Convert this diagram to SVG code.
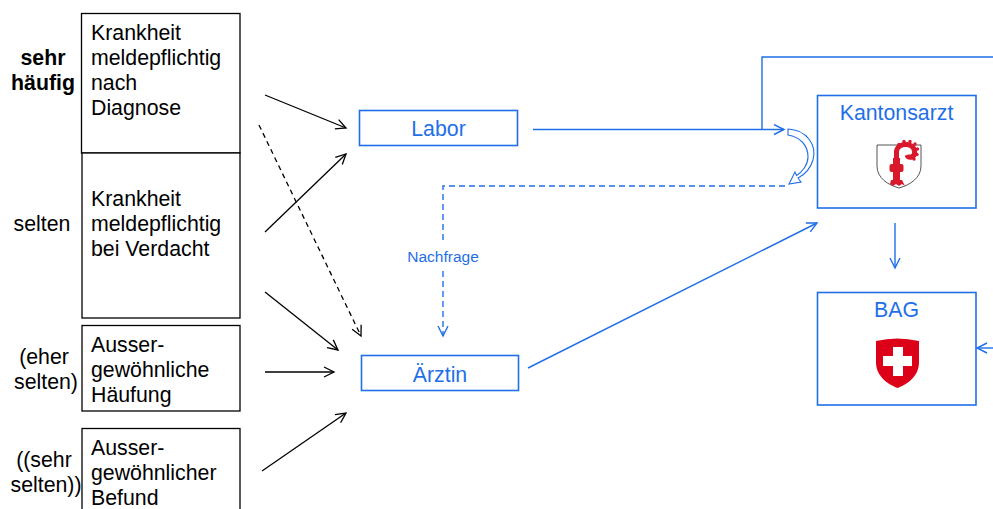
<svg xmlns="http://www.w3.org/2000/svg" width="993" height="509" viewBox="0 0 993 509">
<style>
text{font-family:"Liberation Sans",Arial,sans-serif;font-size:21.3px;}
.bl{fill:#000;}
.lab{fill:#000;text-anchor:middle;}
.bold{font-weight:bold;}
.bt{fill:#1f6fe8;text-anchor:middle;}
.kbox{fill:#fff;stroke:#000;stroke-width:1.3;}
.bbox{fill:#fff;stroke:#1f6fe8;stroke-width:1.6;}
.ka{stroke:#000;stroke-width:1.3;fill:none;}
.kd{stroke:#000;stroke-width:1.3;fill:none;stroke-dasharray:5 4;}
.ba{stroke:#1f6fe8;stroke-width:1.4;fill:none;}
.bd{stroke:#1f6fe8;stroke-width:1.4;fill:none;stroke-dasharray:6 4;}
</style>
<defs>
<marker id="ak" markerUnits="userSpaceOnUse" markerWidth="14" markerHeight="14" refX="11" refY="6" orient="auto">
<path d="M1,1 L11,6 L1,11" fill="none" stroke="#000" stroke-width="1.3"/>
</marker>
<marker id="ab" markerUnits="userSpaceOnUse" markerWidth="14" markerHeight="14" refX="11" refY="6" orient="auto">
<path d="M1,1 L11,6 L1,11" fill="none" stroke="#1f6fe8" stroke-width="1.4"/>
</marker>
</defs>
<rect width="993" height="509" fill="#fff"/>

<g id="freq-labels">
<text class="lab bold" x="43" y="65">sehr</text>
<text class="lab bold" x="43" y="90">häufig</text>
<text class="lab" x="42" y="231">selten</text>
<text class="lab" x="44" y="364">(eher</text>
<text class="lab" x="46" y="389">selten)</text>
<text class="lab" x="44" y="467">((sehr</text>
<text class="lab" x="46" y="492">selten))</text>
</g>

<g id="box-diagnose">
<rect class="kbox" x="81.5" y="13.5" width="158.5" height="139.5"/>
<text class="bl" x="91" y="40">Krankheit</text>
<text class="bl" x="91" y="65">meldepflichtig</text>
<text class="bl" x="91" y="90">nach</text>
<text class="bl" x="91" y="115">Diagnose</text>
</g>
<g id="box-verdacht">
<rect class="kbox" x="82" y="153" width="158" height="165"/>
<text class="bl" x="91" y="206">Krankheit</text>
<text class="bl" x="91" y="231">meldepflichtig</text>
<text class="bl" x="91" y="256">bei Verdacht</text>
</g>
<g id="box-haeufung">
<rect class="kbox" x="82" y="325.5" width="158" height="85.5"/>
<text class="bl" x="91" y="352">Ausser-</text>
<text class="bl" x="91" y="377">gewöhnliche</text>
<text class="bl" x="91" y="402">Häufung</text>
</g>
<g id="box-befund">
<rect class="kbox" x="82" y="428.5" width="158" height="90"/>
<text class="bl" x="91" y="455">Ausser-</text>
<text class="bl" x="91" y="480">gewöhnlicher</text>
<text class="bl" x="91" y="505">Befund</text>
</g>

<g id="labor">
<rect class="bbox" x="359.5" y="110.5" width="158" height="35"/>
<text class="bt" x="438.5" y="136">Labor</text>
</g>
<g id="aerztin">
<rect class="bbox" x="361.5" y="355.5" width="157" height="35"/>
<text class="bt" x="440" y="382">Ärztin</text>
</g>
<g id="kantonsarzt">
<rect class="bbox" x="817.5" y="95.5" width="158.5" height="112.5"/>
<text class="bt" x="896.5" y="120">Kantonsarzt</text>
<path d="M877,145 L921,145 L921,166 C921,178 910,185 899,188 C888,185 877,178 877,166 Z" fill="#fff" stroke="#555" stroke-width="1"/>
<g fill="#d9192b">
<rect x="893" y="158" width="7" height="24"/>
<rect x="889.5" y="164" width="14" height="8" rx="2"/>
<path d="M891,180 L902,180 L905,186 L902,184 L899,186 L896,184 L893,186 L890,184 Z"/>
<circle cx="899" cy="144.5" r="1.7"/>
<circle cx="904" cy="141.5" r="1.7"/>
<circle cx="910" cy="141.5" r="1.7"/>
<circle cx="915" cy="144" r="1.7"/>
<circle cx="917.5" cy="149" r="1.7"/>
<circle cx="917" cy="154.5" r="1.7"/>
<circle cx="914" cy="159" r="1.7"/>
</g>
<path d="M896.5,160 L896.5,152 C896.5,147 901,144 907,144.5 C913,145 916,150 914,155 C912,158 908,158 907,155" fill="none" stroke="#d9192b" stroke-width="5"/>
</g>
<g id="bag">
<rect class="bbox" x="817.5" y="292.5" width="158.5" height="112.5"/>
<text class="bt" x="896.5" y="317">BAG</text>
<path d="M876,341 Q897,336 919,341 L919,362 C919,376 908,384 897.5,388 C887,384 876,376 876,362 Z" fill="#dc0018"/>
<rect x="883" y="356" width="29" height="10" fill="#fff"/>
<rect x="893" y="347" width="10" height="29" fill="#fff"/>
</g>

<g id="connectors">
<line class="ka" x1="265" y1="95" x2="346" y2="128" marker-end="url(#ak)"/>
<line class="ka" x1="265" y1="232" x2="346" y2="154" marker-end="url(#ak)"/>
<line class="ka" x1="265" y1="292" x2="338" y2="350" marker-end="url(#ak)"/>
<line class="ka" x1="265" y1="372" x2="334" y2="372" marker-end="url(#ak)"/>
<line class="ka" x1="262" y1="471" x2="346" y2="413" marker-end="url(#ak)"/>
<line class="kd" x1="259" y1="125" x2="361" y2="336" marker-end="url(#ak)"/>

<line class="ba" x1="533" y1="129.5" x2="784" y2="129.5" marker-end="url(#ab)"/>
<path class="ba" d="M762,129.5 V57 H993"/>
<line class="ba" x1="528" y1="368" x2="817" y2="223" marker-end="url(#ab)"/>
<line class="ba" x1="895" y1="223" x2="895" y2="268" marker-end="url(#ab)"/>
<line class="ba" x1="993" y1="348" x2="977" y2="348" marker-end="url(#ab)"/>
<path class="bd" d="M785,186 H443 V242"/>
<path class="bd" d="M443,271 V336" marker-end="url(#ab)"/>
<text class="bt" x="443" y="262" style="font-size:15.5px">Nachfrage</text>
<path d="M788,129 C807,130 817,145 813,160 C810,170 804,175 798,178 L801,182 L789,184 L795,172 L796.5,175.5 C802,172 808,165 808,157 C808,145 800,137 788,135 Z" fill="#fff" stroke="#1f6fe8" stroke-width="1.1"/>
</g>
</svg>
